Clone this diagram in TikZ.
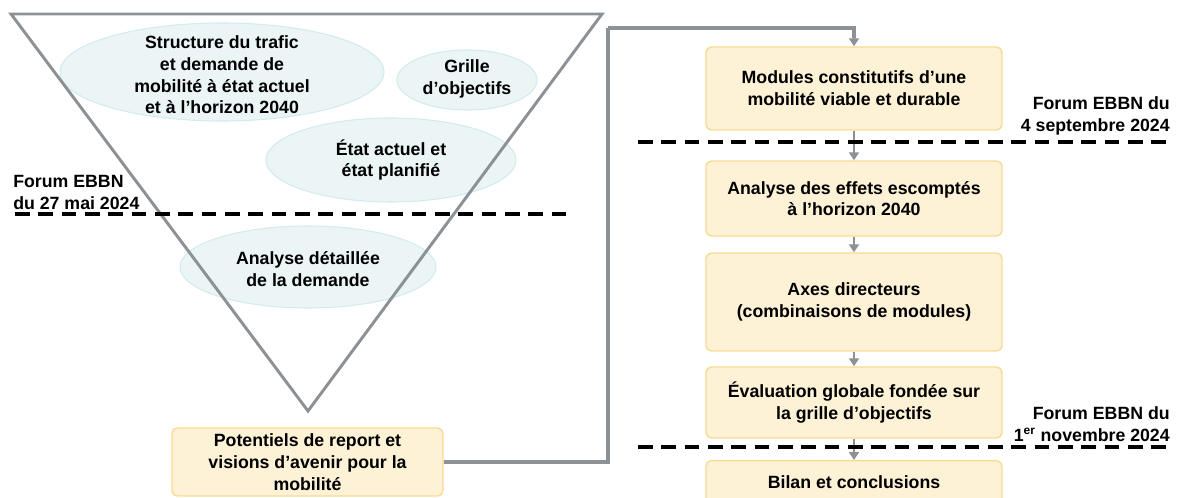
\documentclass[tikz,border=0pt]{standalone}
\usepackage{fontspec}
\setmainfont{Liberation Sans}
\usetikzlibrary{arrows.meta,shapes.geometric}
\definecolor{boxfill}{HTML}{FDF2D6}
\definecolor{boxline}{HTML}{F7DC95}
\definecolor{ellfill}{HTML}{EBF5F5}
\definecolor{ellline}{HTML}{D3EAEE}
\definecolor{conngray}{HTML}{8C9196}
\tikzset{
  stepbox/.style={draw=boxline, fill=boxfill, line width=1.1pt, rounded corners=4pt, align=center, inner sep=0pt},
  cloud/.style={ellipse, draw=ellline, fill=ellfill, line width=0.8pt, align=center, inner sep=0pt},
  conn/.style={draw=conngray, line width=2.6pt},
  arr/.style={conngray, line width=1.8pt, -{Triangle[length=6pt,width=7.5pt]}},
  sep/.style={black, line width=2.7pt, dash pattern=on 11pt off 6.5pt},
  lbl/.style={inner sep=0pt},
  every node/.style={font=\bfseries\fontsize{13.3}{16.3}\selectfont}
}
\begin{document}
\begin{tikzpicture}[x=0.75pt,y=-0.75pt]
\useasboundingbox (0,0) rectangle (1186,498);
% ellipses
\node[cloud, minimum width=0.75pt*324, minimum height=0.75pt*98] (e1) at (222,72) {};
\node[cloud, minimum width=0.75pt*140, minimum height=0.75pt*60] (e2) at (467,80) {};
\node[cloud, minimum width=0.75pt*250, minimum height=0.75pt*84] (e3) at (391,160) {};
\node[cloud, minimum width=0.75pt*256, minimum height=0.75pt*82] (e4) at (308,267) {};
% funnel
\coordinate (tl) at (11,14);
\coordinate (tr) at (602,14);
\coordinate (ap) at (308,411);
\draw[conn, line width=2.2pt, line join=miter] (tl) -- (tr) -- (ap) -- cycle;
% texts in ellipses
\node[lbl, align=center] (t1) at (222,75) {Structure du trafic\\et demande de\\mobilité à état actuel\\et à l’horizon 2040};
\node[lbl, align=center] (t2) at (467,79) {Grille\\d’objectifs};
\node[lbl, align=center] (t3) at (391,160) {État actuel et\\état planifié};
\node[lbl, align=center] (t4) at (308,269) {Analyse détaillée\\de la demande};
% left forum
\coordinate (d1a) at (15,214);
\coordinate (d1b) at (570,214);
\draw[sep] (d1a) -- (d1b);
\node[lbl, align=left, anchor=south west] (f1) at (13,210) {Forum EBBN\\du 27 mai 2024};
% boxes
\node[stepbox, minimum width=0.75pt*271, minimum height=0.75pt*68] (pot) at (307.5,462) {Potentiels de report et\\visions d’avenir pour la\\mobilité};
\node[stepbox, minimum width=0.75pt*296, minimum height=0.75pt*83] (b1) at (854,88.5) {Modules constitutifs d’une\\mobilité viable et durable};
\node[stepbox, minimum width=0.75pt*296, minimum height=0.75pt*75] (b2) at (854,198.5) {Analyse des effets escomptés\\à l’horizon 2040};
\node[stepbox, minimum width=0.75pt*296, minimum height=0.75pt*98] (b3) at (854,302) {Axes directeurs\\(combinaisons de modules)};
\node[stepbox, minimum width=0.75pt*296, minimum height=0.75pt*71] (b4) at (854,402.5) {Évaluation globale fondée sur\\la grille d’objectifs};
\node[stepbox, minimum width=0.75pt*296, minimum height=0.75pt*60, anchor=north] (b5) at (854,460) {};
\node[lbl] (t5) at (854,482) {Bilan et conclusions};
% connectors
\coordinate (c1) at (608,28);
\draw[conn] (pot.east) -| (c1);
\draw[conn] (c1) -| ([yshift=6]b1.north);
\draw[arr] ([yshift=7]b1.north) -- (b1.north);
\draw[arr] (b1.south) -- (b2.north);
\draw[arr] (b2.south) -- (b3.north);
\draw[arr] (b3.south) -- (b4.north);
\draw[arr] (b4.south) -- (b5.north);
% right forums
\coordinate (d2a) at (638,142);
\coordinate (d2b) at (1172,142);
\draw[sep] (d2a) -- (d2b);
\node[lbl, align=right, anchor=south east] (f2) at (1170,135) {Forum EBBN du\\4 septembre 2024};
\coordinate (d3a) at (638,447);
\coordinate (d3b) at (1172,447);
\draw[sep] (d3a) -- (d3b);
\node[lbl, align=right, anchor=south east] (f3) at (1170,442) {Forum EBBN du\\1\textsuperscript{\fontsize{9}{9}\selectfont er} novembre 2024};
\end{tikzpicture}
\end{document}
